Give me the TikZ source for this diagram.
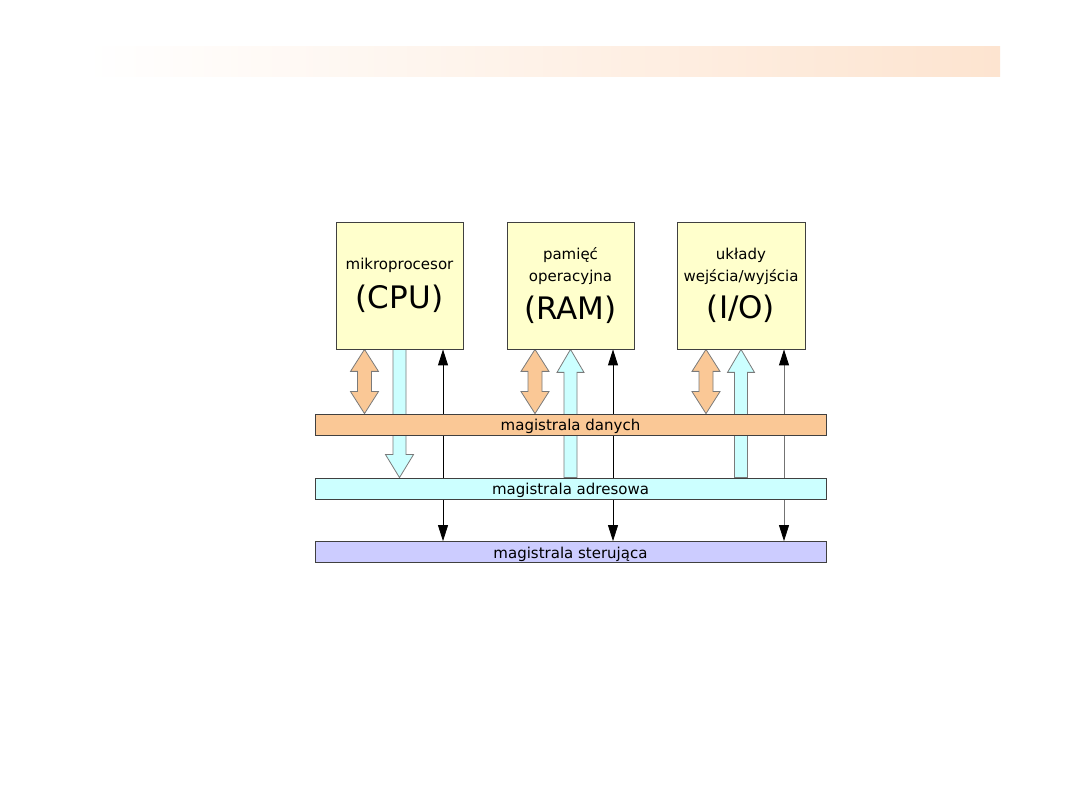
\documentclass[tikz,border=0pt]{standalone}
\usepackage{fontspec}
\setmainfont{DejaVu Sans}
\usetikzlibrary{calc,arrows.meta}
\pgfdeclarelayer{bg}
\pgfsetlayers{bg,main}
\definecolor{boxfill}{HTML}{FFFFCC}
\definecolor{boxline}{HTML}{404040}
\definecolor{datafill}{HTML}{FAC896}
\definecolor{addrfill}{HTML}{CCFFFF}
\definecolor{ctrlfill}{HTML}{CCCCFF}
\definecolor{arrowline}{HTML}{7A7A7A}
\definecolor{headerR}{HTML}{FDE4D0}
\newcommand\smallf{\fontsize{15}{21.5}\selectfont}
\newcommand\busf{\fontsize{15}{18}\selectfont}
\newcommand\bigf{\fontsize{31}{34}\selectfont}
\tikzset{
  box/.style={draw=boxline, fill=boxfill, line width=0.8pt, minimum width=127pt, minimum height=127pt, inner sep=0pt, align=center, font=\smallf},
  bus/.style={draw=boxline, line width=0.8pt, minimum width=511pt, minimum height=21pt, inner sep=0pt, font=\busf, text height=13pt, text depth=1pt},
  databus/.style={bus, fill=datafill},
  addrbus/.style={bus, fill=addrfill},
  ctrlbus/.style={bus, fill=ctrlfill},
  dataarrow/.style={draw=arrowline, fill=datafill, line width=0.8pt, line join=miter},
  addrarrow/.style={draw=arrowline, fill=addrfill, line width=0.8pt, line join=miter},
  ctrlline/.style={draw=black, line width=0.8pt, {Triangle[width=10pt,length=16pt]}-{Triangle[width=10pt,length=16pt]}},
}
% double-headed data arrow: #1 top point, #2 bottom anchor
\newcommand\dataArrow[3][dataarrow]{%
  \draw[#1] let \p1=(#2), \p2=(#3) in
   (\x1,\y1) -- (\x1+14pt,\y1-22pt) -- (\x1+7pt,\y1-22pt) -- (\x1+7pt,\y2+22pt) --
   (\x1+14pt,\y2+22pt) -- (\x1,\y2) -- (\x1-14pt,\y2+22pt) -- (\x1-7pt,\y2+22pt) --
   (\x1-7pt,\y1-22pt) -- (\x1-14pt,\y1-22pt) -- cycle;}
% address arrow pointing down
\newcommand\addrDown[2]{%
  \draw[addrarrow] let \p1=(#1), \p2=(#2) in
   (\x1-6.5pt,\y1) -- (\x1+6.5pt,\y1) -- (\x1+6.5pt,\y2+23pt) -- (\x1+14pt,\y2+23pt) --
   (\x1,\y2) -- (\x1-14pt,\y2+23pt) -- (\x1-6.5pt,\y2+23pt) -- cycle;}
% address arrow pointing up
\newcommand\addrUp[2]{%
  \draw[addrarrow] let \p1=(#1), \p2=(#2) in
   (\x1,\y1) -- (\x1+13.5pt,\y1-23pt) -- (\x1+6.5pt,\y1-23pt) -- (\x1+6.5pt,\y2) --
   (\x1-6.5pt,\y2) -- (\x1-6.5pt,\y1-23pt) -- (\x1-13.5pt,\y1-23pt) -- cycle;}
\begin{document}
\begin{tikzpicture}[x=1pt,y=-1pt]
\useasboundingbox (0,0) rectangle (1080,810);
\begin{pgfonlayer}{bg}
  \fill[white] (0,0) rectangle (1080,810);
  \shade[left color=white, right color=headerR] (85,47) rectangle (1000,77);
\end{pgfonlayer}

% units
\node[box] (cpu) at (399.5,285.5) {mikroprocesor\\[11pt]{\bigf (CPU)}};
\node[box] (ram) at (570.5,285.5) {pamięć\\operacyjna\\[10pt]{\bigf (RAM)}};
\node[box, minimum width=128pt] (io) at (741,285.5) {układy\\wejścia/wyjścia\\[10pt]{\bigf (I/O)}};

% buses
\node[databus] (dbus) at (570.5,424.5) {magistrala danych};
\node[addrbus] (abus) at (570.5,488.5) {magistrala adresowa};
\node[ctrlbus] (cbus) at (570.5,552) {magistrala sterująca};

% ports
\coordinate (cpuD) at ($(cpu.south)+(-35,0)$);
\coordinate (cpuA) at (cpu.south);
\coordinate (cpuC) at ($(cpu.south)+(43.5,0)$);
\coordinate (ramD) at ($(ram.south)+(-35.5,0)$);
\coordinate (ramA) at (ram.south);
\coordinate (ramC) at ($(ram.south)+(42.5,0)$);
\coordinate (ioD) at ($(io.south)+(-35,0)$);
\coordinate (ioA) at (io.south);
\coordinate (ioC) at ($(io.south)+(43,0)$);

\begin{pgfonlayer}{bg}
  \dataArrow{cpuD}{dbus.north}
  \dataArrow{ramD}{dbus.north}
  \dataArrow{ioD}{dbus.north}
  \addrDown{cpuA}{abus.north}
  \addrUp{ramA}{abus.north}
  \addrUp{ioA}{abus.north}
  \draw[ctrlline] (cpuC) -- (cpuC |- cbus.north);
  \draw[ctrlline] (ramC) -- (ramC |- cbus.north);
  \draw[ctrlline, draw=black!55, arrows={{Triangle[width=10pt,length=16pt,black]}-{Triangle[width=10pt,length=16pt,black]}}] (ioC) -- (ioC |- cbus.north);
\end{pgfonlayer}
\end{tikzpicture}
\end{document}
